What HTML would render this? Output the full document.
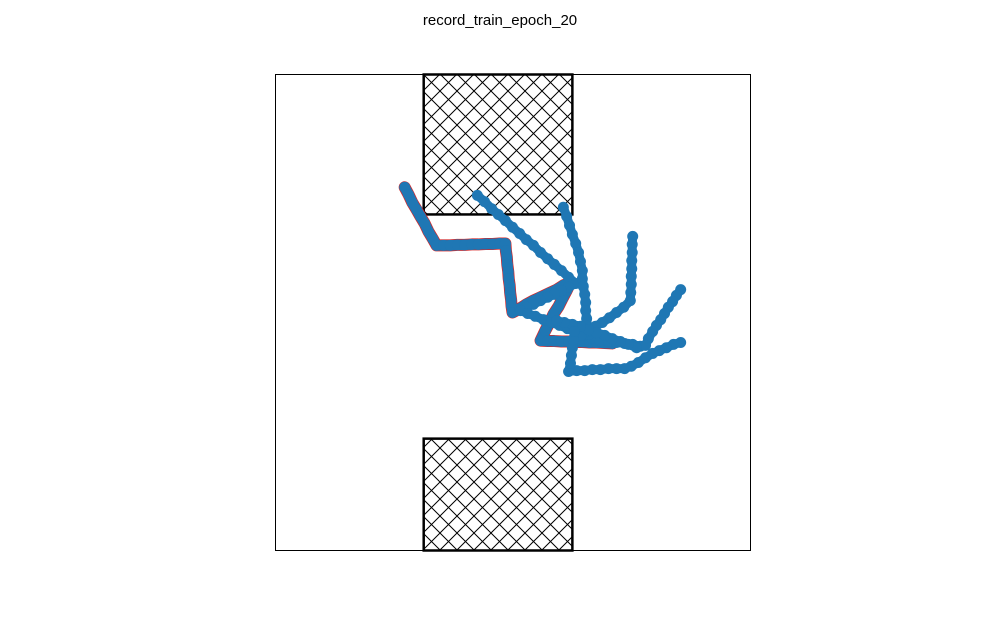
<!DOCTYPE html>
<html><head><meta charset="utf-8"><style>
body{margin:0;background:#fff;}
svg{display:block;font-family:"Liberation Sans",sans-serif;}
</style></head><body>
<svg id="chart" width="1000" height="618">
<defs>
<pattern id="hatch" patternUnits="userSpaceOnUse" width="17" height="17" x="423" y="74">
<path d="M0,0L17,17M17,0L0,17" stroke="#000" stroke-width="1"/>
</pattern>
</defs>
<text x="500" y="25" text-anchor="middle" font-size="15">record_train_epoch_20</text>
<rect x="275.5" y="74.5" width="475" height="476" fill="#fff" stroke="#000" stroke-width="1"/>
<g id="obstacles"></g>
<g id="series"></g>
</svg>
<script>
const xDomain=[0,100], yDomain=[0,100];
const obstacles=[[31.2,100,62.5,70.6],[31.2,23.5,62.5,0]];
const traj1=[[27.2,76.3],[28.0,74.8],[28.8,73.1],[29.7,71.6],[30.5,70.2],[31.4,68.7],[32.2,67.0],[33.1,65.5],[33.9,64.1],[35.4,64.1],[36.8,64.1],[38.3,64.2],[39.8,64.2],[41.3,64.3],[42.7,64.3],[44.2,64.4],[45.7,64.4],[47.2,64.5],[48.4,64.5],[48.5,63.0],[48.7,61.6],[48.8,60.1],[49.0,58.6],[49.1,57.1],[49.3,55.7],[49.4,54.2],[49.6,52.7],[49.7,51.3],[49.9,50.0],[51.4,50.8],[52.8,51.7],[54.3,52.5],[55.8,53.2],[57.5,54.0],[59.2,54.8],[60.6,55.7],[62.1,56.3],[61.3,54.6],[60.4,52.9],[59.6,51.3],[58.5,49.6],[57.7,47.9],[56.8,46.2],[55.8,44.1],[57.3,44.0],[58.7,44.0],[60.2,43.9],[61.7,43.9],[63.2,43.8],[64.6,43.8],[66.1,43.7],[67.6,43.7],[69.3,43.6],[70.9,43.5]];
const traj2=[[42.5,74.6],[44.0,73.3],[45.5,71.8],[46.9,70.6],[48.4,69.3],[49.9,67.9],[51.4,66.6],[52.8,65.3],[54.3,64.1],[55.8,62.6],[57.3,61.3],[58.7,60.1],[60.2,58.8],[61.7,57.4],[63.2,56.1],[61.7,55.3],[60.2,54.6],[58.7,53.8],[57.3,53.2],[55.8,52.5],[54.3,51.7],[52.8,51.1],[51.6,50.4],[53.1,49.8],[54.7,49.2],[56.4,48.5],[58.1,47.9],[59.8,47.3],[61.5,46.6],[63.2,46.0],[64.8,45.4],[66.5,44.7],[68.4,44.1],[70.1,43.9],[71.8,43.7],[73.5,43.5],[75.2,43.3],[76.8,42.9]];
const traj3=[[60.6,72.1],[61.3,70.2],[61.9,68.3],[62.5,66.4],[63.2,64.5],[63.8,62.6],[64.2,60.7],[64.6,58.8],[64.6,57.1],[64.8,55.5],[65.1,53.8],[65.3,52.1],[65.3,50.4],[65.5,48.7],[65.7,47.1],[65.9,45.4]];
const traj4=[[75.2,66.0],[75.1,64.3],[75.1,62.6],[75.0,60.9],[75.0,59.2],[74.9,57.6],[74.9,55.9],[74.8,54.2],[74.7,52.5],[73.3,51.1],[71.8,50.0],[70.3,48.9],[68.8,47.9],[67.4,47.1],[65.9,46.0],[64.4,45.2]];
const traj5=[[85.3,54.8],[84.4,53.6],[83.6,52.3],[82.7,51.1],[81.9,49.8],[81.1,48.5],[80.2,47.3],[79.4,46.0],[78.5,44.5],[77.9,43.1],[76.0,42.6],[74.3,43.3],[72.6,43.9],[70.9,44.5],[69.3,45.2],[67.6,45.8],[65.9,46.4],[64.2,47.1],[62.5,47.5],[60.8,47.9],[59.2,48.3]];
const traj6=[[85.3,43.7],[83.8,43.3],[82.3,42.6],[80.8,42.0],[79.4,41.4],[77.9,40.5],[76.4,39.5],[74.9,38.7],[73.5,38.2],[71.8,38.2],[70.1,38.2],[68.4,38.0],[66.7,38.0],[65.1,37.8],[63.4,37.8],[61.7,37.6],[62.1,39.3],[62.3,41.0],[62.5,42.6],[62.7,44.3],[62.9,46.0]];
const X0=275.5,X1=750.5,Y0=550.5,Y1=74.5;
function sx(v){return X0+(v-xDomain[0])/(xDomain[1]-xDomain[0])*(X1-X0);}
function sy(v){return Y0-(v-yDomain[0])/(yDomain[1]-yDomain[0])*(Y0-Y1);}
const NS='http://www.w3.org/2000/svg';
const og=document.getElementById('obstacles');
obstacles.forEach((o,i)=>{
  const r=document.createElementNS(NS,'rect');
  r.setAttribute('x',sx(o[0]));r.setAttribute('y',sy(o[1]));
  r.setAttribute('width',sx(o[2])-sx(o[0]));r.setAttribute('height',sy(o[3])-sy(o[1]));
  r.setAttribute('fill','url(#hatch)');r.setAttribute('stroke','#000');r.setAttribute('stroke-width','2.5');
  
  
  og.appendChild(r);
});
const sg=document.getElementById('series');
const all=[traj1,traj2,traj3,traj4,traj5,traj6];
all.forEach((t,i)=>{
  const g=document.createElementNS(NS,'g');
  
  
  if(i===0){
    const pr=document.createElementNS(NS,'polyline');
    pr.setAttribute('points',t.map(d=>sx(d[0])+','+sy(d[1])).join(' '));
    pr.setAttribute('fill','none');pr.setAttribute('stroke','#d62728');pr.setAttribute('stroke-width','12');
    pr.setAttribute('stroke-linejoin','round');pr.setAttribute('stroke-linecap','round');
    
    
    g.appendChild(pr);
  }
  const p=document.createElementNS(NS,'polyline');
  p.setAttribute('points',t.map(d=>sx(d[0])+','+sy(d[1])).join(' '));
  p.setAttribute('fill','none');p.setAttribute('stroke','#1f77b4');p.setAttribute('stroke-width', i===0?10.5:9);
  p.setAttribute('stroke-linejoin','round');p.setAttribute('stroke-linecap','round');
  
  
  g.appendChild(p);
  t.forEach(d=>{
    const c=document.createElementNS(NS,'circle');
    c.setAttribute('cx',sx(d[0]));c.setAttribute('cy',sy(d[1]));c.setAttribute('r',5.5);
    c.setAttribute('fill','#1f77b4');
    
    
    g.appendChild(c);
  });
  sg.appendChild(g);
});
</script>
</body></html>
